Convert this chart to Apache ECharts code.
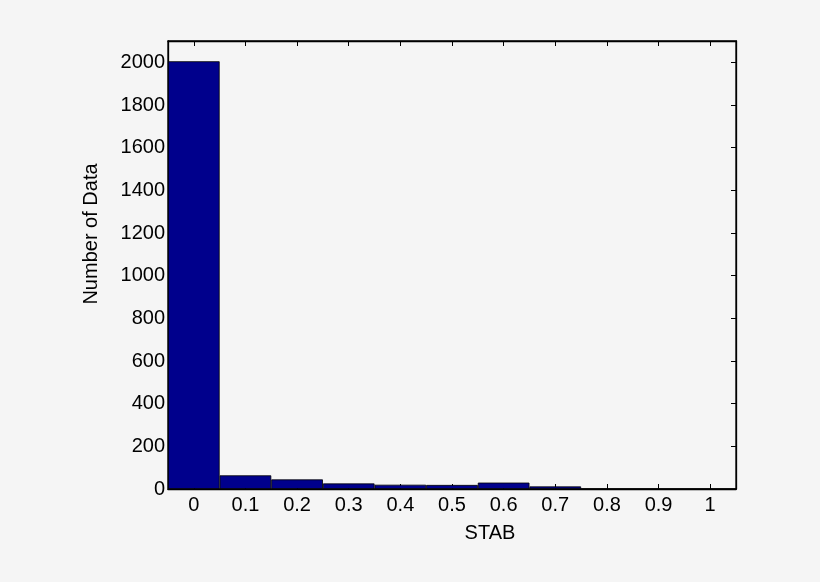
<!DOCTYPE html>
<html>
<head>
<meta charset="utf-8">
<script src="https://cdn.jsdelivr.net/npm/echarts@6/dist/echarts.min.js"></script>
<style>
html,body{margin:0;padding:0;background:#f5f5f5;}
#chart{width:820px;height:582px;}
</style>
</head>
<body>
<div id="chart"></div>
<script>
const categories = ['0','0.1','0.2','0.3','0.4','0.5','0.6','0.7','0.8','0.9','1'];
const counts = [2005, 64, 45, 26, 20, 19, 30, 12, 0, 0, 0];
const xTitle = 'STAB';
const yTitle = 'Number of Data';

const font = 'Liberation Sans, Arial, Helvetica, sans-serif';
const chart = echarts.init(document.getElementById('chart'));
const tickStyle = {show:true, inside:true, length:5, lineStyle:{color:'#000', width:1}};
chart.setOption({
  backgroundColor:'#f5f5f5',
  animation:false,
  grid:{left:168, right:84, top:41, bottom:93, show:true, borderColor:'#000', borderWidth:1.3, backgroundColor:'transparent'},
  xAxis:[{
    type:'category', data:categories, position:'bottom', boundaryGap:true,
    axisLine:{show:true, lineStyle:{color:'#000', width:1.3}},
    axisTick:Object.assign({alignWithLabel:true}, tickStyle),
    axisLabel:{color:'#000', fontSize:20, fontFamily:font, margin:6},
    splitLine:{show:false}
  },{
    type:'category', data:categories, position:'top', boundaryGap:true,
    axisLine:{show:true, onZero:false, lineStyle:{color:'#000', width:1.3}},
    axisTick:Object.assign({alignWithLabel:true}, tickStyle),
    axisLabel:{show:false}, splitLine:{show:false}
  }],
  yAxis:[{
    type:'value', min:0, max:2100, interval:200, position:'left',
    axisLine:{show:true, lineStyle:{color:'#000', width:1.3}},
    axisTick:tickStyle,
    axisLabel:{color:'#000', fontSize:20, fontFamily:font, margin:3, showMaxLabel:false, formatter:function(v){return String(v);}},
    splitLine:{show:false}
  },{
    type:'value', min:0, max:2100, interval:200, position:'right',
    axisLine:{show:true, onZero:false, lineStyle:{color:'#000', width:1.3}},
    axisTick:tickStyle,
    axisLabel:{show:false}, splitLine:{show:false}
  }],
  series:[{
    type:'bar', data:counts, xAxisIndex:0, yAxisIndex:0,
    barCategoryGap:'0%',
    itemStyle:{color:'#00008c', borderColor:'#000', borderWidth:0.8}
  },{
    type:'bar', data:[], xAxisIndex:1, yAxisIndex:1
  }],
  graphic:[
    {type:'text', x:490, y:533, style:{text:xTitle, fill:'#000', font:'20px '+font, align:'center', verticalAlign:'middle'}},
    {type:'text', x:91, y:234, rotation:Math.PI/2, style:{text:yTitle, fill:'#000', font:'20px '+font, align:'center', verticalAlign:'middle'}}
  ]
});
</script>
</body>
</html>
